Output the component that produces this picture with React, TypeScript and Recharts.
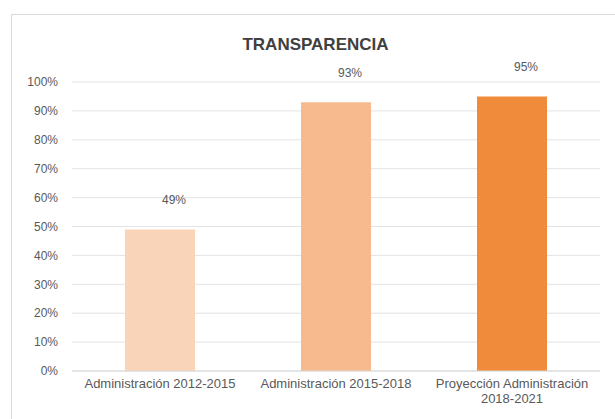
import { BarChart, Bar, XAxis, YAxis, CartesianGrid, LabelList, Cell, Text } from "recharts";

const categories = ["Administración 2012-2015", "Administración 2015-2018", "Proyección Administración 2018-2021"];
const values = [0.49, 0.93, 0.95];
const yTicks = [0, 0.1, 0.2, 0.3, 0.4, 0.5, 0.6, 0.7, 0.8, 0.9, 1];
const barColors = ["#F9D4B8", "#F6BA8E", "#EF8B3B"];

const data = categories.map((name, i) => ({ name, value: values[i] }));

const pct = (v: number) => `${Math.round(v * 100)}%`;

function CategoryTick(props: any) {
  const { x, y, payload } = props;
  return (
    <Text
      x={x}
      y={y}
      width={180}
      textAnchor="middle"
      verticalAnchor="start"
      lineHeight="1.15em"
      fill="#595959"
      fontSize={13}
      fontFamily="Liberation Sans, Arial, sans-serif"
    >
      {payload.value}
    </Text>
  );
}

function ValueLabel(props: any) {
  const { x, y, width, value } = props;
  return (
    <text
      x={x + width / 2 + 14}
      y={y - 25}
      textAnchor="middle"
      fill="#595959"
      fontSize={12}
      fontFamily="Liberation Sans, Arial, sans-serif"
    >
      {pct(value)}
    </text>
  );
}

export default function App() {
  return (
    <div
      style={{
        position: "fixed",
        left: 0,
        top: 0,
        width: 615,
        height: 419,
        overflow: "hidden",
        background: "#fff",
      }}
    >
      <div
        style={{
          position: "absolute",
          left: 11,
          top: 14,
          width: 700,
          height: 500,
          border: "1px solid #D9D9D9",
        }}
      />
      <div
        style={{
          position: "absolute",
          left: 0,
          width: 615,
          top: 34,
          textAlign: "center",
          paddingLeft: 16,
          boxSizing: "border-box",
          fontFamily: "Liberation Sans, Arial, sans-serif",
          fontWeight: "bold",
          fontSize: 17,
          color: "#404040",
          lineHeight: "22px",
        }}
      >
        TRANSPARENCIA
      </div>
      <div style={{ position: "absolute", left: 0, top: 0 }}>
        <BarChart
          width={615}
          height={419}
          data={data}
          margin={{ top: 82, right: 15, bottom: 8, left: 12 }}
          barSize={70}
        >
          <CartesianGrid stroke="#E3E3E3" vertical={false} />
          <XAxis
            dataKey="name"
            interval={0}
            axisLine={{ stroke: "#D9D9D9" }}
            tickLine={false}
            height={40}
            tick={<CategoryTick />}
          />
          <YAxis
            domain={[0, 1]}
            ticks={yTicks}
            tickFormatter={pct}
            axisLine={false}
            tickLine={false}
            tickMargin={8}
            width={60}
            tick={{ fontSize: 12, fill: "#595959", fontFamily: "Liberation Sans, Arial, sans-serif" }}
          />
          <Bar dataKey="value" isAnimationActive={false}>
            {data.map((_, i) => (
              <Cell key={i} fill={barColors[i]} />
            ))}
            <LabelList dataKey="value" content={<ValueLabel />} />
          </Bar>
        </BarChart>
      </div>
    </div>
  );
}
